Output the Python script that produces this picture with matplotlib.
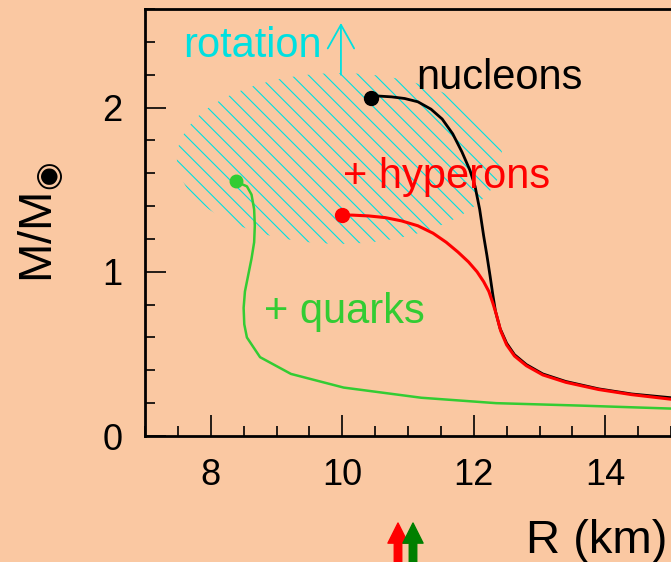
import matplotlib
matplotlib.use("Agg")
import matplotlib.pyplot as plt
from matplotlib.patches import Ellipse
from matplotlib.ticker import MultipleLocator

# mass-radius curves, first point is the maximum mass star (dot)
r_nuc = [10.43, 10.55, 10.75, 10.95, 11.15, 11.35, 11.52, 11.68, 11.82, 11.94,
         12.02, 12.09, 12.15, 12.20, 12.25, 12.29, 12.33, 12.40, 12.50, 12.62,
         12.80, 13.05, 13.40, 13.90, 14.40, 15.0]
m_nuc = [2.06, 2.07, 2.065, 2.055, 2.035, 1.99, 1.93, 1.84, 1.73, 1.62,
         1.52, 1.38, 1.22, 1.10, 0.97, 0.86, 0.76, 0.655, 0.565, 0.495,
         0.435, 0.378, 0.332, 0.287, 0.256, 0.233]

r_hyp = [10.0, 10.15, 10.40, 10.65, 10.90, 11.15, 11.38, 11.58, 11.76, 11.92,
         12.05, 12.15, 12.23, 12.29, 12.34, 12.41, 12.50, 12.62, 12.80, 13.05,
         13.40, 13.90, 14.40, 15.0]
m_hyp = [1.345, 1.345, 1.34, 1.33, 1.31, 1.28, 1.235, 1.18, 1.12, 1.06,
         1.00, 0.94, 0.88, 0.81, 0.745, 0.64, 0.555, 0.487, 0.428, 0.372,
         0.327, 0.283, 0.252, 0.224]

r_qrk = [8.38, 8.55, 8.62, 8.66, 8.67, 8.66, 8.62, 8.57, 8.52, 8.50,
         8.51, 8.55, 8.75, 9.22, 10.02, 11.20, 12.34, 13.63, 15.0]
m_qrk = [1.55, 1.52, 1.47, 1.38, 1.28, 1.18, 1.08, 0.98, 0.88, 0.78,
         0.68, 0.60, 0.48, 0.378, 0.295, 0.233, 0.20, 0.185, 0.167]

bg = "#FAC8A2"
cyan = "#00E0E0"
green = "#33CC33"

plt.rcParams["font.family"] = ["Liberation Sans", "DejaVu Sans"]
plt.rcParams["hatch.linewidth"] = 0.8

fig = plt.figure(figsize=(6.71, 5.62), dpi=100, facecolor=bg)
ax = fig.add_axes([145/671, 1 - 436/562, 526/671, 427/562])
ax.set_facecolor(bg)

# region allowed by rotation
ell = Ellipse((9.96, 1.69), 4.95, 1.04, facecolor="none", edgecolor=cyan,
              linewidth=0, hatch="\\\\", zorder=1)
ax.add_patch(ell)

ax.plot(r_nuc, m_nuc, color="black", lw=2.0, zorder=3)
ax.plot(r_hyp, m_hyp, color="red", lw=2.2, zorder=4)
ax.plot(r_qrk, m_qrk, color=green, lw=1.8, zorder=4)
ax.plot(r_nuc[0], m_nuc[0], "o", color="black", ms=10, zorder=5)
ax.plot(r_hyp[0], m_hyp[0], "o", color="red", ms=10, zorder=5)
ax.plot(r_qrk[0], m_qrk[0], "o", color=green, ms=9, zorder=5)

ax.text(7.58, 2.305, "rotation", color=cyan, fontsize=30, va="baseline")
ax.annotate("", xy=(9.98, 2.515), xytext=(9.98, 2.2),
            arrowprops=dict(arrowstyle="->,head_length=1.7,head_width=0.95",
                            color=cyan, lw=1.3, mutation_scale=10,
                            shrinkA=0, shrinkB=0))
ax.text(11.12, 2.11, "nucleons", color="black", fontsize=30, va="baseline")
ax.text(10.01, 1.512, "+ hyperons", color="red", fontsize=30, va="baseline")
ax.text(8.81, 0.689, "+ quarks", color=green, fontsize=30, va="baseline")

ax.set_xlim(7, 15)
ax.set_ylim(0, 2.6)
ax.xaxis.set_major_locator(MultipleLocator(2))
ax.xaxis.set_minor_locator(MultipleLocator(0.5))
ax.yaxis.set_major_locator(MultipleLocator(1))
ax.yaxis.set_minor_locator(MultipleLocator(0.2))
ax.tick_params(which="both", direction="in", width=1.2, labelsize=26, pad=16)
ax.tick_params(which="major", length=15)
ax.tick_params(which="minor", length=7)
for s in ["left", "bottom", "top"]:
    ax.spines[s].set_linewidth(2)
ax.spines["right"].set_visible(False)

fig.text(41/671, 1 - 222/562, "M/M$_◉$", rotation=90, ha="center",
         va="center", fontsize=34)
fig.text(667/671, 1 - 553/562, "R (km)", ha="right", va="baseline",
         fontsize=34)

# arrows below the axis
for xp, c in [(398, "red"), (413, "#007F00")]:
    ax.annotate("", xy=(xp, 39), xytext=(xp, -20), xycoords="figure pixels",
                textcoords="figure pixels", annotation_clip=False,
                arrowprops=dict(width=5.4, headwidth=14.5, headlength=14.5,
                                color=c, shrink=0))

fig.savefig("out.png", dpi=100, facecolor=bg)
